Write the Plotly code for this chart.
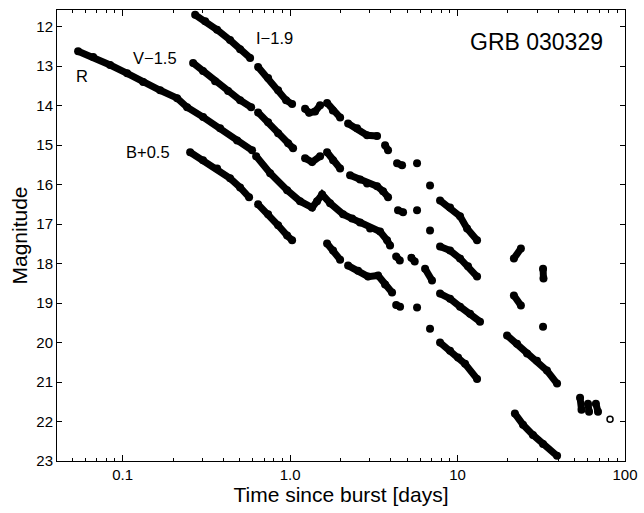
import math
import plotly.graph_objects as go

# ---- data (time in days, magnitude) ----
R_t = [0.0542, 0.0667, 0.0842, 0.1064, 0.1326, 0.1674, 0.2115, 0.2427, 0.3024, 0.3821, 0.4828, 0.5931, None,
       0.627, 0.760, 0.960, 1.147, 1.353, 1.449, 1.553, 1.733, 2.072, 2.345, 2.617, 3.004, 3.445, 3.794, 3.954, None,
       4.30, 4.52, None, 5.30, 5.55, None, 6.40, 7.04, None,
       7.86, 9.02, 10.35, 11.88, 13.62, None,
       19.75, 22.66, 26.0, 29.8, 34.2, 39.3, None,
       53.9, 55.0, None, 60.1, 61.0, None, 67.0, 69.0]
R_m = [12.62, 12.77, 12.97, 13.18, 13.40, 13.61, 13.81, 14.04, 14.29, 14.57, 14.88, 15.13, None,
       15.28, 15.71, 16.14, 16.42, 16.58, 16.42, 16.25, 16.47, 16.75, 16.86, 16.96, 17.11, 17.19, 17.41, 17.54, None,
       17.82, 17.92, None, 17.85, 17.95, None, 18.13, 18.43, None,
       18.76, 18.89, 19.09, 19.27, 19.47, None,
       19.82, 20.03, 20.28, 20.46, 20.71, 21.04, None,
       21.40, 21.70, None, 21.55, 21.75, None, 21.55, 21.75]

R_open_t = [81.4]
R_open_m = [21.94]

I_t = [0.271, 0.311, 0.3666, 0.438, 0.503, 0.577, None,
       0.644, 0.739, 0.848, 0.946, 1.028, None,
       1.229, 1.30, 1.41, 1.511, None, 1.663, 1.80, 1.99, None,
       2.22, 2.512, 2.883, 3.307, None, 3.692, 3.847, None, 4.353, 4.664, None, 5.73, None, 6.85, None,
       7.86, 9.02, 10.35, 11.40, 13.08, None,
       21.7, 23.9, None, 32.4, 32.6]
I_m = [11.70, 11.86, 12.08, 12.34, 12.57, 12.79, None,
       13.02, 13.30, 13.61, 13.86, 13.96, None,
       14.08, 14.18, 14.15, 13.99, None, 13.93, 14.12, 14.30, None,
       14.45, 14.57, 14.75, 14.77, None, 15.00, 15.13, None, 15.46, 15.51, None, 15.46, None, 16.02, None,
       16.40, 16.58, 16.80, 17.11, 17.41, None,
       17.87, 17.62, None, 18.13, 18.38]

V_t = [0.2636, 0.302, 0.3566, 0.4265, 0.503, 0.5853, None,
       0.644, 0.739, 0.848, 0.973, 1.042, None,
       1.229, 1.353, 1.511, None, 1.663, 1.806, 1.989, None,
       2.281, 2.617, 2.883, 3.307, 3.591, 3.847, None, 4.41, 4.728, None, 5.73, None, 6.85, None,
       7.86, 9.02, 10.35, 11.55, 13.08, None,
       21.7, 23.9, None, 32.4]
V_m = [12.92, 13.12, 13.38, 13.63, 13.86, 14.04, None,
       14.17, 14.42, 14.70, 14.95, 15.08, None,
       15.33, 15.43, 15.28, None, 15.18, 15.38, 15.59, None,
       15.76, 15.87, 15.97, 16.04, 16.17, 16.32, None, 16.65, 16.70, None, 16.65, None, 17.16, None,
       17.57, 17.67, 17.87, 18.07, 18.33, None,
       18.81, 19.06, None, 19.60]

B_t = [0.253, 0.302, 0.3666, 0.438, 0.503, 0.569, None,
       0.644, 0.739, 0.848, 0.960, 1.028, None,
       1.663, 1.806, 1.989, None, 2.220, 2.547, 2.923, 3.353, 3.692, 4.064, None,
       4.30, 4.536, None, 5.73, None, 6.85, None,
       7.86, 9.02, 10.07, 11.09, 13.08, None,
       22.0, 24.6, 28.2, 32.4, 39.3]
B_m = [15.18, 15.38, 15.59, 15.84, 16.07, 16.32, None,
       16.50, 16.75, 17.03, 17.29, 17.41, None,
       17.49, 17.67, 17.90, None, 18.05, 18.18, 18.33, 18.30, 18.53, 18.73, None,
       19.05, 19.09, None, 19.11, None, 19.65, None,
       20.00, 20.21, 20.38, 20.54, 20.92, None,
       21.80, 22.08, 22.34, 22.57, 22.87]

x_tickvals = [0.1, 1.0, 10, 100]
x_ticktext = ["0.1", "1.0", "10", "100"]
x_minor_vals = [m * d for d in (0.01, 0.1, 1, 10) for m in range(2, 10)]
y_tickvals = list(range(12, 24))

FONT = "Liberation Sans, Arial, sans-serif"
XRANGE = [-1.392, 2.0]

fig = go.Figure()
for t, m in [(R_t, R_m), (V_t, V_m), (I_t, I_m), (B_t, B_m)]:
    fig.add_trace(go.Scatter(
        x=t, y=m, mode="lines+markers", connectgaps=False,
        line=dict(color="black", width=7),
        marker=dict(color="black", size=8),
        showlegend=False, hoverinfo="skip"))
fig.add_trace(go.Scatter(
    x=R_open_t, y=R_open_m, mode="markers",
    marker=dict(color="white", size=6, line=dict(color="black", width=1.5)),
    showlegend=False, hoverinfo="skip"))
# invisible trace to activate the minor-tick axis
fig.add_trace(go.Scatter(x=[1], y=[20], xaxis="x2", mode="markers",
                         marker=dict(opacity=0), showlegend=False, hoverinfo="skip"))

labels = [("R", 0.0573, 13.25), ("V\u22121.5", 0.157, 12.79),
          ("I\u22121.9", 0.803, 12.29), ("B+0.5", 0.141, 15.17)]
for txt, x, y in labels:
    fig.add_annotation(x=math.log10(x), y=y, xref="x", yref="y", text=txt,
                       showarrow=False, font=dict(family=FONT, size=16.5, color="black"))
fig.add_annotation(x=0.965, y=0.929, xref="paper", yref="paper", text="GRB 030329",
                   xanchor="right", yanchor="middle", showarrow=False,
                   font=dict(family=FONT, size=23, color="black"))

fig.update_layout(
    width=644, height=513,
    margin=dict(l=57, r=19, t=10, b=52),
    paper_bgcolor="white", plot_bgcolor="white",
    font=dict(family=FONT, color="black", size=14),
    xaxis=dict(
        type="log", range=XRANGE, automargin=False,
        tickvals=x_tickvals, ticktext=x_ticktext,
        ticks="inside", ticklen=6, tickcolor="black",
        showline=True, linecolor="black", linewidth=1, mirror="ticks",
        showgrid=False, zeroline=False,
        tickfont=dict(family=FONT, size=15, color="black"),
        title=dict(text="Time since burst [days]", font=dict(family=FONT, size=21, color="black"), standoff=0),
    ),
    xaxis2=dict(
        type="log", range=XRANGE, automargin=False, overlaying="x", anchor="y",
        tickvals=x_minor_vals, showticklabels=False,
        ticks="inside", ticklen=3, tickcolor="black",
        showline=True, linecolor="black", linewidth=1, mirror="ticks",
        showgrid=False, zeroline=False,
    ),
    yaxis=dict(
        range=[23, 11.577], tickvals=y_tickvals, automargin=False,
        ticks="inside", ticklen=5, tickcolor="black",
        showline=True, linecolor="black", linewidth=1, mirror="ticks",
        showgrid=False, zeroline=False,
        tickfont=dict(family=FONT, size=15, color="black"),
        title=dict(text="Magnitude", font=dict(family=FONT, size=21, color="black"), standoff=2),
    ),
)
fig.write_html("out.html", config={"displayModeBar": False},
               post_script="document.body.style.margin='0px';document.body.style.overflow='hidden';")
